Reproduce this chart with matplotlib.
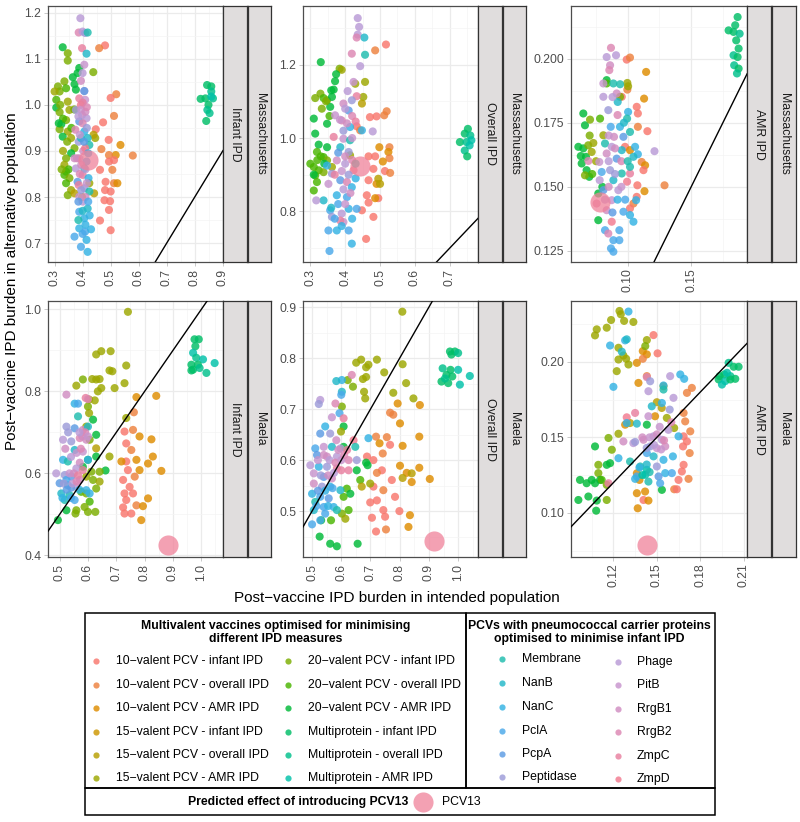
import math
import matplotlib
matplotlib.use("Agg")
import matplotlib.pyplot as plt
from matplotlib.patches import Rectangle

plt.rcParams['font.family'] = ['Liberation Sans', 'DejaVu Sans']

# ---------------- data ----------------
MULTI_LABELS = ["10\u2212valent PCV - infant IPD", "10\u2212valent PCV - overall IPD", "10\u2212valent PCV - AMR IPD",
                "15\u2212valent PCV - infant IPD", "15\u2212valent PCV - overall IPD", "15\u2212valent PCV - AMR IPD",
                "20\u2212valent PCV - infant IPD", "20\u2212valent PCV - overall IPD", "20\u2212valent PCV - AMR IPD",
                "Multiprotein - infant IPD", "Multiprotein - overall IPD", "Multiprotein - AMR IPD"]
PROT_LABELS = ["Membrane", "NanB", "NanC", "PclA", "PcpA", "Peptidase",
               "Phage", "PitB", "RrgB1", "RrgB2", "ZmpC", "ZmpD"]
SITES = ["Massachusetts", "Maela"]
MEASURES = ["Infant IPD", "Overall IPD", "AMR IPD"]

# (x, y, group index) ; group index 0-11 multivalent, 12-23 carrier proteins
MASS_INFANT = [
    (0.48, 1.129, 0), (0.459, 1.123, 1), (0.52, 1.023, 1), (0.5, 1.015, 0), (0.512, 0.976, 1), (0.473, 0.962, 0),
    (0.447, 0.947, 0), (0.493, 0.924, 0), (0.535, 0.913, 2), (0.579, 0.89, 1), (0.518, 0.891, 2), (0.494, 0.891, 1),
    (0.467, 0.904, 1), (0.494, 0.877, 0), (0.512, 0.88, 0), (0.462, 0.859, 0), (0.482, 0.833, 0), (0.512, 0.83, 1),
    (0.524, 0.83, 2), (0.48, 0.815, 0), (0.5, 0.812, 0), (0.478, 0.793, 0), (0.498, 0.791, 0), (0.494, 0.772, 0),
    (0.462, 0.749, 0), (0.5, 0.728, 0), (0.506, 0.859, 1),
    (0.329, 1.125, 8), (0.347, 1.112, 6), (0.347, 1.096, 6), (0.388, 1.08, 8), (0.382, 1.069, 8), (0.438, 1.071, 6),
    (0.335, 1.051, 6), (0.312, 1.04, 6), (0.318, 1.029, 6), (0.3, 1.029, 5), (0.371, 1.045, 8), (0.376, 1.033, 8),
    (0.341, 1.036, 7), (0.306, 1.011, 7), (0.347, 1.007, 5), (0.306, 0.994, 8), (0.318, 0.984, 6), (0.353, 0.989, 5),
    (0.341, 0.967, 6), (0.324, 0.958, 8), (0.318, 0.947, 6), (0.347, 0.942, 5), (0.329, 0.931, 8), (0.359, 0.928, 5),
    (0.371, 0.906, 6), (0.359, 0.895, 8), (0.341, 0.884, 6), (0.335, 0.87, 5), (0.341, 0.855, 7), (0.335, 0.848, 7),
    (0.353, 0.841, 6), (0.341, 0.83, 7), (0.359, 0.815, 5), (0.347, 0.804, 6), (0.371, 0.808, 4), (0.445, 0.928, 5),
    (0.439, 0.935, 4), (0.441, 0.808, 4), (0.424, 0.83, 5), (0.398, 0.8, 3),
    (0.32, 1.0, 6), (0.33, 0.97, 7), (0.315, 0.96, 8), (0.345, 0.92, 6), (0.33, 0.9, 5), (0.35, 0.86, 7),
    (0.325, 0.86, 6), (0.36, 0.95, 7), (0.37, 0.99, 6), (0.365, 1.06, 8),
    (0.844, 1.043, 9), (0.859, 1.04, 9), (0.821, 1.013, 9), (0.838, 1.014, 9), (0.865, 1.014, 10), (0.859, 1.029, 10),
    (0.849, 1.0, 9), (0.845, 0.989, 10), (0.853, 0.982, 10), (0.841, 0.965, 9), (0.859, 1.018, 11),
    (0.392, 1.188, 18), (0.386, 1.157, 21), (0.4, 1.159, 18), (0.409, 1.156, 17), (0.418, 1.157, 12), (0.398, 1.123, 22),
    (0.414, 1.111, 13), (0.406, 1.087, 19), (0.4, 1.069, 18), (0.394, 1.052, 20), (0.406, 1.03, 18), (0.388, 1.014, 22),
    (0.409, 1.011, 19), (0.376, 0.989, 17), (0.398, 0.978, 20), (0.414, 0.971, 18), (0.388, 0.964, 16), (0.374, 0.946, 21),
    (0.406, 0.942, 14), (0.418, 0.928, 13), (0.386, 0.92, 17), (0.424, 0.913, 12), (0.402, 0.9, 20), (0.388, 0.884, 19),
    (0.414, 0.877, 15), (0.376, 0.862, 18), (0.4, 0.848, 22), (0.421, 0.841, 14), (0.382, 0.833, 16), (0.406, 0.819, 17),
    (0.424, 0.812, 12), (0.388, 0.801, 19), (0.4, 0.79, 18), (0.418, 0.775, 13), (0.388, 0.768, 15), (0.406, 0.754, 14),
    (0.388, 0.732, 14), (0.409, 0.725, 15), (0.371, 0.714, 15), (0.414, 0.707, 14), (0.394, 0.692, 15), (0.418, 0.681, 14),
    (0.394, 1.0, 23), (0.38, 0.884, 21), (0.409, 0.906, 23), (0.371, 0.884, 20), (0.406, 1.03, 16), (0.394, 0.928, 13),
    (0.406, 0.862, 12), (0.386, 0.826, 22),
    (0.395, 0.99, 19), (0.41, 0.985, 20), (0.385, 0.975, 18), (0.4, 0.96, 21), (0.415, 0.95, 17), (0.39, 0.935, 19),
    (0.405, 0.92, 16), (0.42, 0.895, 14), (0.395, 0.87, 20), (0.41, 0.86, 18), (0.39, 0.85, 21), (0.415, 0.83, 19),
    (0.395, 0.815, 17), (0.41, 0.8, 20), (0.385, 0.79, 16), (0.42, 0.79, 15), (0.4, 0.77, 13), (0.425, 0.76, 14),
    (0.385, 0.75, 12), (0.41, 0.74, 14), (0.4, 0.72, 15), (0.43, 0.73, 14), (0.4, 1.005, 22), (0.415, 0.995, 21),
]

MASS_OVERALL = [
    (0.517, 1.255, 0), (0.486, 1.239, 1), (0.49, 1.059, 0), (0.471, 1.057, 0), (0.519, 1.073, 1), (0.512, 1.062, 1),
    (0.527, 0.975, 1), (0.498, 0.975, 2), (0.524, 0.962, 2), (0.467, 0.95, 0), (0.486, 0.95, 0), (0.527, 0.945, 1),
    (0.481, 0.916, 0), (0.508, 0.936, 2), (0.514, 0.91, 0), (0.529, 0.905, 1), (0.467, 0.885, 0), (0.49, 0.875, 2),
    (0.462, 0.844, 0), (0.495, 0.836, 0), (0.486, 0.836, 2), (0.467, 0.824, 0), (0.448, 0.803, 0), (0.481, 0.785, 0),
    (0.46, 0.725, 0), (0.433, 1.032, 0), (0.443, 1.021, 1),
    (0.33, 1.207, 8), (0.384, 1.189, 6), (0.39, 1.186, 5), (0.374, 1.174, 8), (0.371, 1.155, 8), (0.457, 1.153, 5),
    (0.367, 1.132, 8), (0.429, 1.148, 5), (0.329, 1.121, 6), (0.314, 1.109, 6), (0.338, 1.109, 7), (0.348, 1.103, 6),
    (0.362, 1.112, 8), (0.452, 1.112, 5), (0.448, 1.094, 4), (0.333, 1.08, 6), (0.357, 1.085, 8), (0.31, 1.053, 8),
    (0.348, 1.039, 8), (0.314, 1.012, 8), (0.324, 0.982, 8), (0.319, 0.962, 7), (0.338, 0.948, 7), (0.3, 0.93, 7),
    (0.31, 0.921, 7), (0.324, 0.912, 7), (0.314, 0.898, 7), (0.338, 0.907, 6), (0.319, 0.88, 7), (0.31, 0.857, 7),
    (0.348, 0.939, 6), (0.362, 0.921, 5), (0.5, 0.875, 4), (0.495, 0.889, 4), (0.348, 0.975, 8), (0.414, 0.953, 5),
    (0.33, 0.95, 7), (0.34, 0.93, 8), (0.32, 0.94, 7), (0.31, 0.9, 8), (0.345, 1.1, 6), (0.36, 1.13, 8), (0.355, 1.06, 7),
    (0.752, 1.025, 9), (0.743, 1.012, 9), (0.759, 1.007, 10), (0.729, 0.989, 9), (0.748, 0.989, 10), (0.757, 0.98, 11),
    (0.743, 0.966, 10), (0.75, 0.95, 9), (0.762, 0.994, 11),
    (0.436, 1.327, 18), (0.44, 1.303, 18), (0.436, 1.282, 18), (0.455, 1.274, 13), (0.433, 1.274, 21), (0.419, 1.23, 21),
    (0.457, 1.227, 12), (0.443, 1.196, 18), (0.424, 1.153, 19), (0.407, 1.128, 18), (0.433, 1.114, 22), (0.419, 1.103, 17),
    (0.395, 1.094, 20), (0.41, 1.075, 16), (0.371, 1.062, 19), (0.39, 1.048, 21), (0.414, 1.03, 14), (0.448, 1.021, 14),
    (0.479, 1.018, 18), (0.367, 1.003, 22), (0.395, 0.998, 19), (0.414, 0.994, 12), (0.386, 0.975, 13), (0.41, 0.962, 17),
    (0.348, 0.925, 14), (0.376, 0.939, 20), (0.4, 0.93, 18), (0.424, 0.912, 23), (0.362, 0.903, 17), (0.386, 0.885, 16),
    (0.405, 0.88, 21), (0.419, 0.866, 14), (0.352, 0.875, 19), (0.376, 0.844, 14), (0.405, 0.839, 15), (0.338, 0.83, 13),
    (0.317, 0.83, 18), (0.357, 0.803, 15), (0.39, 0.794, 18), (0.41, 0.807, 14), (0.433, 0.807, 15), (0.362, 0.785, 17),
    (0.395, 0.771, 19), (0.352, 0.748, 15), (0.376, 0.748, 14), (0.41, 0.748, 15), (0.419, 0.712, 14), (0.355, 0.692, 15),
    (0.386, 0.775, 22),
    (0.4, 1.08, 18), (0.42, 1.06, 21), (0.385, 1.05, 19), (0.405, 1.04, 20), (0.43, 1.045, 22), (0.395, 1.02, 17),
    (0.42, 1.0, 19), (0.38, 0.96, 16), (0.4, 0.95, 20), (0.42, 0.94, 21), (0.39, 0.91, 19), (0.41, 0.9, 17),
    (0.43, 0.89, 14), (0.37, 0.9, 22), (0.395, 0.86, 18), (0.415, 0.85, 20), (0.38, 0.82, 15), (0.4, 0.82, 19),
    (0.42, 0.78, 14), (0.37, 0.78, 15), (0.39, 0.76, 14), (0.43, 0.93, 12), (0.36, 0.81, 13),
]

MASS_AMR = [
    (0.1866, 0.2162, 9), (0.1847, 0.213, 9), (0.1795, 0.211, 9), (0.1834, 0.2104, 9), (0.1882, 0.2097, 10),
    (0.1855, 0.2071, 9), (0.1874, 0.2039, 9), (0.1834, 0.2013, 10), (0.1866, 0.2006, 9), (0.1839, 0.1974, 10),
    (0.1874, 0.1961, 9), (0.1861, 0.1942, 10),
    (0.0992, 0.1996, 0), (0.1018, 0.2004, 1), (0.1145, 0.1948, 2), (0.0997, 0.1879, 1), (0.1129, 0.1844, 2),
    (0.1071, 0.1812, 0), (0.108, 0.1786, 0), (0.108, 0.1734, 1), (0.1155, 0.1717, 0), (0.129, 0.1506, 1),
    (0.111, 0.1597, 1), (0.1137, 0.1584, 2), (0.1124, 0.1565, 0), (0.1076, 0.1506, 0), (0.1132, 0.1483, 2),
    (0.1071, 0.1461, 0), (0.1045, 0.1435, 1), (0.1018, 0.1416, 0), (0.0979, 0.1656, 0), (0.1018, 0.1643, 2),
    (0.0953, 0.1851, 0),
    (0.065, 0.1786, 8), (0.0663, 0.174, 8), (0.0703, 0.1762, 6), (0.0611, 0.1656, 8), (0.065, 0.165, 8),
    (0.0689, 0.1662, 6), (0.0729, 0.1671, 5), (0.0671, 0.1617, 8), (0.0716, 0.1636, 5), (0.0637, 0.1591, 8),
    (0.0676, 0.1565, 8), (0.0697, 0.1539, 8), (0.0663, 0.1545, 6), (0.0782, 0.1766, 7), (0.0834, 0.1916, 8),
    (0.0834, 0.1903, 7), (0.0768, 0.1474, 8), (0.0768, 0.137, 8), (0.0808, 0.1701, 5), (0.0997, 0.1905, 5),
    (0.1003, 0.1892, 5), (0.0939, 0.1851, 6),
    (0.07, 0.17, 6), (0.063, 0.162, 8), (0.075, 0.16, 5), (0.072, 0.155, 7), (0.08, 0.15, 8),
    (0.0868, 0.2042, 21), (0.0834, 0.2006, 18), (0.0908, 0.2013, 18), (0.0861, 0.1974, 20), (0.0855, 0.1955, 21),
    (0.0808, 0.1903, 19), (0.0887, 0.1903, 12), (0.0808, 0.1851, 18), (0.0913, 0.1864, 20), (0.0921, 0.1831, 13),
    (0.0847, 0.1799, 17), (0.1003, 0.1792, 14), (0.0995, 0.1766, 12), (0.0866, 0.1734, 15), (0.0939, 0.1734, 14),
    (0.1018, 0.1714, 12), (0.0892, 0.1695, 20), (0.0966, 0.1695, 16), (0.0821, 0.1669, 12), (0.0874, 0.1656, 18),
    (0.0953, 0.1643, 13), (0.1058, 0.1656, 14), (0.1211, 0.1639, 18), (0.069, 0.1601, 21), (0.0776, 0.1597, 19),
    (0.0834, 0.163, 20), (0.0913, 0.161, 16), (0.108, 0.1627, 14), (0.0795, 0.1558, 15), (0.0861, 0.1565, 17),
    (0.0953, 0.1552, 12), (0.1018, 0.1552, 22), (0.0779, 0.1526, 18), (0.0887, 0.1526, 13), (0.0995, 0.152, 23),
    (0.0808, 0.1487, 16), (0.0926, 0.1487, 18), (0.1066, 0.1448, 14), (0.0874, 0.1448, 19), (0.0755, 0.1435, 22),
    (0.0834, 0.1409, 20), (0.0966, 0.1403, 15), (0.1018, 0.139, 14), (0.1045, 0.1364, 14), (0.0874, 0.1364, 23),
    (0.0821, 0.1331, 15), (0.0934, 0.1331, 15), (0.0847, 0.1318, 21), (0.0887, 0.1292, 15), (0.0934, 0.1292, 15),
    (0.0868, 0.126, 15), (0.0887, 0.1247, 15), (0.1045, 0.1617, 13), (0.1018, 0.1578, 12),
    (0.085, 0.17, 19), (0.09, 0.165, 20), (0.095, 0.16, 21), (0.085, 0.16, 18), (0.09, 0.155, 17), (0.095, 0.15, 19),
    (0.085, 0.15, 20), (0.082, 0.145, 18), (0.092, 0.145, 14), (0.098, 0.145, 15), (0.088, 0.14, 16), (0.1, 0.16, 12),
    (0.097, 0.175, 13), (0.092, 0.178, 21), (0.088, 0.185, 18), (0.094, 0.19, 12),
]

MAELA_INFANT = [
    (0.976, 0.927, 9), (0.991, 0.927, 9), (0.979, 0.91, 9), (0.971, 0.894, 11), (0.982, 0.882, 10), (1.006, 0.878, 11),
    (0.965, 0.865, 9), (0.988, 0.865, 9), (0.971, 0.853, 9), (0.994, 0.857, 10), (1.047, 0.869, 11), (1.018, 0.845, 10),
    (0.965, 0.851, 9),
    (0.771, 0.786, 2), (0.841, 0.789, 2), (0.762, 0.749, 1), (0.759, 0.706, 1), (0.729, 0.702, 0), (0.782, 0.69, 2),
    (0.824, 0.683, 2), (0.735, 0.673, 0), (0.753, 0.657, 1), (0.771, 0.633, 2), (0.829, 0.641, 2), (0.812, 0.624, 2),
    (0.735, 0.629, 0), (0.718, 0.629, 2), (0.741, 0.608, 0), (0.782, 0.608, 2), (0.859, 0.606, 2), (0.724, 0.584, 0),
    (0.765, 0.592, 1), (0.747, 0.567, 0), (0.729, 0.551, 0), (0.759, 0.551, 0), (0.812, 0.539, 2), (0.735, 0.535, 0),
    (0.771, 0.522, 1), (0.794, 0.52, 2), (0.729, 0.502, 0), (0.753, 0.502, 0), (0.788, 0.486, 2), (0.724, 0.517, 0),
    (0.741, 0.994, 5), (0.629, 0.89, 5), (0.647, 0.898, 5), (0.68, 0.898, 5), (0.735, 0.863, 5), (0.676, 0.851, 5),
    (0.686, 0.849, 5), (0.615, 0.83, 5), (0.629, 0.829, 5), (0.641, 0.83, 5), (0.582, 0.829, 6), (0.559, 0.814, 5),
    (0.729, 0.82, 5), (0.694, 0.808, 5), (0.647, 0.808, 5), (0.635, 0.8, 5), (0.604, 0.78, 5), (0.624, 0.778, 5),
    (0.6, 0.763, 6), (0.604, 0.747, 5), (0.735, 0.735, 5), (0.618, 0.731, 8), (0.594, 0.714, 5), (0.629, 0.694, 8),
    (0.606, 0.682, 6), (0.629, 0.661, 4), (0.676, 0.641, 5), (0.629, 0.641, 8), (0.662, 0.607, 8), (0.612, 0.604, 6),
    (0.641, 0.604, 6), (0.594, 0.592, 5), (0.618, 0.584, 6), (0.641, 0.58, 5), (0.629, 0.563, 6), (0.576, 0.555, 7),
    (0.594, 0.551, 6), (0.606, 0.531, 7), (0.588, 0.518, 6), (0.559, 0.51, 6), (0.524, 0.51, 8), (0.556, 0.502, 6),
    (0.6, 0.506, 6), (0.626, 0.506, 6), (0.494, 0.486, 8), (0.582, 0.616, 8), (0.6, 0.633, 8),
    (0.524, 0.792, 20), (0.592, 0.784, 22), (0.553, 0.77, 14), (0.565, 0.77, 15), (0.6, 0.781, 21), (0.565, 0.739, 12),
    (0.524, 0.714, 17), (0.553, 0.71, 16), (0.582, 0.706, 20), (0.6, 0.714, 13), (0.512, 0.682, 18), (0.541, 0.678, 17),
    (0.571, 0.686, 21), (0.594, 0.682, 20), (0.553, 0.657, 13), (0.582, 0.653, 19), (0.512, 0.633, 14), (0.529, 0.629, 12),
    (0.571, 0.626, 20), (0.6, 0.633, 14), (0.559, 0.612, 18), (0.582, 0.608, 22), (0.488, 0.6, 18), (0.518, 0.596, 17),
    (0.541, 0.592, 16), (0.571, 0.584, 20), (0.5, 0.576, 16), (0.529, 0.571, 14), (0.559, 0.567, 19), (0.506, 0.551, 13),
    (0.535, 0.547, 12), (0.553, 0.535, 15), (0.518, 0.535, 12), (0.594, 0.559, 14), (0.606, 0.551, 14), (0.541, 0.565, 16),
    (0.524, 0.584, 15),
    (0.52, 0.66, 20), (0.54, 0.64, 18), (0.56, 0.65, 19), (0.575, 0.66, 21), (0.535, 0.6, 19), (0.55, 0.6, 20),
    (0.565, 0.595, 22), (0.515, 0.575, 17), (0.545, 0.575, 18), (0.56, 0.58, 21), (0.525, 0.56, 16), (0.57, 0.56, 14),
    (0.51, 0.54, 14), (0.54, 0.54, 15), (0.58, 0.69, 20), (0.59, 0.7, 21), (0.6, 0.69, 19), (0.57, 0.7, 18),
    (0.53, 0.7, 17),
]

MAELA_OVERALL = [
    (0.972, 0.813, 9), (0.989, 0.813, 9), (0.977, 0.807, 9), (1.0, 0.81, 10), (0.947, 0.78, 10), (0.974, 0.777, 9),
    (1.0, 0.777, 11), (0.96, 0.767, 9), (0.98, 0.764, 9), (0.943, 0.754, 9), (0.966, 0.751, 9), (1.006, 0.748, 11),
    (1.04, 0.765, 11), (0.955, 0.76, 10),
    (0.767, 0.693, 1), (0.778, 0.689, 1), (0.801, 0.672, 2), (0.793, 0.711, 2), (0.869, 0.708, 2), (0.719, 0.646, 1),
    (0.756, 0.645, 1), (0.731, 0.633, 2), (0.767, 0.63, 0), (0.81, 0.628, 2), (0.867, 0.646, 2), (0.688, 0.607, 0),
    (0.71, 0.6, 0), (0.742, 0.613, 1), (0.801, 0.589, 2), (0.739, 0.58, 0), (0.722, 0.575, 1), (0.773, 0.561, 0),
    (0.824, 0.575, 2), (0.867, 0.585, 2), (0.903, 0.563, 2), (0.841, 0.557, 2), (0.71, 0.548, 0), (0.744, 0.541, 1),
    (0.722, 0.521, 0), (0.784, 0.528, 0), (0.744, 0.502, 0), (0.799, 0.5, 0), (0.835, 0.492, 2), (0.705, 0.487, 0),
    (0.75, 0.489, 0), (0.83, 0.469, 2), (0.719, 0.46, 0), (0.753, 0.464, 1), (0.699, 0.517, 0),
    (0.809, 0.891, 5), (0.651, 0.791, 5), (0.668, 0.797, 5), (0.693, 0.787, 5), (0.722, 0.797, 5), (0.685, 0.782, 5),
    (0.81, 0.788, 5), (0.747, 0.772, 5), (0.674, 0.759, 5), (0.685, 0.763, 5), (0.622, 0.757, 6), (0.64, 0.744, 6),
    (0.822, 0.751, 5), (0.678, 0.734, 5), (0.682, 0.721, 5), (0.778, 0.732, 5), (0.847, 0.721, 5), (0.602, 0.705, 6),
    (0.608, 0.666, 8), (0.599, 0.656, 5), (0.685, 0.595, 8), (0.69, 0.59, 8), (0.653, 0.58, 8), (0.665, 0.561, 7),
    (0.699, 0.554, 5), (0.67, 0.548, 4), (0.619, 0.544, 7), (0.631, 0.534, 8), (0.608, 0.528, 7), (0.625, 0.502, 7),
    (0.602, 0.495, 6), (0.614, 0.485, 5), (0.565, 0.482, 7), (0.531, 0.482, 8), (0.526, 0.45, 8), (0.562, 0.436, 8),
    (0.585, 0.431, 8), (0.656, 0.436, 8), (0.841, 0.574, 4), (0.81, 0.565, 4), (0.608, 0.626, 8),
    (0.602, 0.757, 14), (0.583, 0.755, 13), (0.602, 0.734, 13), (0.6, 0.728, 15), (0.528, 0.718, 18), (0.523, 0.71, 17),
    (0.58, 0.711, 21), (0.594, 0.692, 15), (0.568, 0.684, 19), (0.608, 0.682, 22), (0.545, 0.666, 14), (0.528, 0.652, 16),
    (0.562, 0.652, 17), (0.642, 0.639, 23), (0.693, 0.643, 14), (0.583, 0.639, 20), (0.511, 0.623, 15), (0.54, 0.626, 19),
    (0.568, 0.626, 13), (0.597, 0.623, 18), (0.648, 0.626, 12), (0.517, 0.61, 16), (0.551, 0.607, 20), (0.585, 0.607, 18),
    (0.653, 0.6, 17), (0.625, 0.6, 21), (0.494, 0.59, 18), (0.523, 0.587, 14), (0.551, 0.587, 17), (0.585, 0.584, 22),
    (0.625, 0.58, 22), (0.506, 0.574, 19), (0.54, 0.567, 16), (0.568, 0.564, 20), (0.506, 0.554, 20), (0.534, 0.548, 17),
    (0.562, 0.548, 14), (0.597, 0.541, 13), (0.5, 0.534, 14), (0.528, 0.528, 15), (0.557, 0.525, 16), (0.511, 0.518, 12),
    (0.54, 0.508, 15), (0.574, 0.508, 14), (0.506, 0.502, 13), (0.545, 0.495, 15), (0.528, 0.482, 15), (0.5, 0.474, 15),
    (0.585, 0.502, 12), (0.636, 0.767, 21),
    (0.52, 0.6, 19), (0.54, 0.61, 20), (0.56, 0.6, 18), (0.58, 0.595, 21), (0.6, 0.6, 19), (0.53, 0.57, 17),
    (0.555, 0.57, 20), (0.575, 0.575, 18), (0.6, 0.58, 22), (0.52, 0.54, 16), (0.545, 0.54, 14), (0.57, 0.545, 15),
    (0.59, 0.62, 20), (0.61, 0.61, 21), (0.62, 0.62, 22), (0.515, 0.51, 15), (0.555, 0.51, 14),
]

MAELA_AMR = [
    (0.1996, 0.1994, 10), (0.2031, 0.1968, 9), (0.2065, 0.1968, 9), (0.1934, 0.1906, 9), (0.1966, 0.1917, 9),
    (0.2008, 0.1906, 10), (0.1927, 0.1884, 9), (0.1973, 0.1873, 11), (0.2008, 0.1884, 9), (0.2042, 0.1888, 9),
    (0.195, 0.185, 11), (0.1985, 0.1928, 11),
    (0.1477, 0.2178, 0), (0.1505, 0.2057, 0), (0.1403, 0.2072, 2), (0.1431, 0.205, 2), (0.1362, 0.1994, 2),
    (0.1403, 0.2021, 1), (0.1373, 0.1861, 2), (0.1431, 0.1906, 1), (0.1742, 0.1828, 1), (0.1708, 0.1795, 1),
    (0.1685, 0.1662, 1), (0.1696, 0.1606, 1), (0.1731, 0.154, 1), (0.1685, 0.1507, 0), (0.1708, 0.1473, 0),
    (0.1681, 0.144, 0), (0.1727, 0.1396, 1), (0.1685, 0.1318, 0), (0.1673, 0.1274, 0), (0.165, 0.1218, 0),
    (0.1719, 0.1225, 1), (0.162, 0.1156, 1), (0.1638, 0.1156, 0), (0.1362, 0.113, 2), (0.1419, 0.1141, 2),
    (0.1408, 0.1085, 0), (0.1368, 0.103, 2), (0.1442, 0.1081, 2), (0.138, 0.1218, 2), (0.1488, 0.164, 2),
    (0.1281, 0.1584, 2), (0.1362, 0.1262, 2),
    (0.1073, 0.2176, 5), (0.1085, 0.2216, 5), (0.1154, 0.2227, 5), (0.1184, 0.2278, 5), (0.1251, 0.2316, 5),
    (0.1274, 0.2272, 5), (0.1338, 0.2265, 5), (0.1242, 0.2338, 5), (0.1235, 0.2094, 5), (0.1269, 0.2043, 5),
    (0.1288, 0.2021, 5), (0.1304, 0.1983, 5), (0.1235, 0.2016, 5), (0.1223, 0.1939, 5), (0.1431, 0.2145, 5),
    (0.142, 0.2105, 6), (0.1546, 0.1839, 5), (0.15, 0.1733, 4), (0.1534, 0.1695, 4), (0.1569, 0.1629, 5),
    (0.162, 0.1562, 5), (0.1431, 0.1584, 8), (0.1235, 0.1524, 5), (0.1166, 0.1496, 6), (0.1189, 0.1418, 6),
    (0.1177, 0.1329, 8), (0.1073, 0.144, 8), (0.1096, 0.1318, 6), (0.1096, 0.1263, 6), (0.1108, 0.1218, 8),
    (0.105, 0.1218, 8), (0.0969, 0.1218, 8), (0.1015, 0.1196, 8), (0.1073, 0.1196, 8), (0.1119, 0.1218, 7),
    (0.1027, 0.1108, 8), (0.0958, 0.1085, 8), (0.1085, 0.1081, 8), (0.1081, 0.1014, 8), (0.1154, 0.1085, 6),
    (0.1154, 0.1185, 6), (0.1535, 0.1152, 8), (0.1154, 0.1318, 8), (0.1315, 0.1595, 4),
    (0.1304, 0.2334, 14), (0.1177, 0.2109, 14), (0.1281, 0.2143, 14), (0.1292, 0.215, 13), (0.1258, 0.2068, 13),
    (0.12, 0.1835, 14), (0.1431, 0.1899, 21), (0.1454, 0.1872, 17), (0.1662, 0.1917, 14), (0.1689, 0.1888, 14),
    (0.1592, 0.1906, 18), (0.1546, 0.1844, 14), (0.1546, 0.1817, 12), (0.1442, 0.1806, 18), (0.1615, 0.1762, 18),
    (0.1535, 0.1728, 14), (0.1465, 0.1706, 13), (0.1589, 0.1684, 17), (0.1292, 0.1633, 23), (0.1362, 0.1591, 13),
    (0.165, 0.1507, 14), (0.1611, 0.1374, 14), (0.1269, 0.1473, 20), (0.1338, 0.1462, 18), (0.1408, 0.1484, 20),
    (0.1477, 0.1507, 18), (0.1535, 0.1484, 18), (0.1454, 0.144, 17), (0.15, 0.1429, 19), (0.1558, 0.144, 20),
    (0.1431, 0.1396, 15), (0.1477, 0.1374, 13), (0.1546, 0.1351, 14), (0.1315, 0.134, 12), (0.1235, 0.1362, 14),
    (0.1385, 0.1307, 12), (0.1431, 0.1285, 11), (0.142, 0.1252, 11), (0.15, 0.1307, 17), (0.1558, 0.1263, 14),
    (0.1604, 0.1263, 15), (0.1362, 0.1241, 15), (0.1512, 0.1241, 16), (0.1523, 0.1196, 15), (0.1442, 0.1207, 12),
    (0.1350, 0.1225, 14), (0.1166, 0.1196, 22), (0.1292, 0.1595, 14), (0.1350, 0.1662, 22), (0.1442, 0.1640, 19),
    (0.145, 0.15, 19), (0.15, 0.152, 20), (0.155, 0.148, 21), (0.148, 0.145, 18), (0.153, 0.142, 19),
    (0.143, 0.143, 17), (0.14, 0.15, 20), (0.158, 0.155, 18), (0.16, 0.16, 21), (0.138, 0.13, 14),
    (0.143, 0.132, 13), (0.14, 0.125, 11), (0.145, 0.127, 12), (0.152, 0.157, 19), (0.135, 0.147, 17),
]

# Predicted effect of PCV13 (x, y) per panel, row-major order
PCV13_X = [0.418, 0.443, 0.078, 0.882, 0.918, 0.143]
PCV13_Y = [0.880, 0.925, 0.144, 0.4245, 0.441, 0.0785]

PANEL_DATA = [MASS_INFANT, MASS_OVERALL, MASS_AMR, MAELA_INFANT, MAELA_OVERALL, MAELA_AMR]

XLIMS = [(0.2765, 0.9008), (0.279, 0.781), (0.0553, 0.194), (0.459, 1.0765), (0.469, 1.068), (0.0907, 0.2123)]
YLIMS = [(0.659, 1.2145), (0.662, 1.36), (0.1207, 0.2205), (0.396, 1.0204), (0.410, 0.912), (0.0707, 0.2404)]
XTICKS = [[0.3, 0.4, 0.5, 0.6, 0.7, 0.8, 0.9], [0.3, 0.4, 0.5, 0.6, 0.7], [0.10, 0.15],
          [0.5, 0.6, 0.7, 0.8, 0.9, 1.0], [0.5, 0.6, 0.7, 0.8, 0.9, 1.0], [0.12, 0.15, 0.18, 0.21]]
YTICKS = [[0.7, 0.8, 0.9, 1.0, 1.1, 1.2], [0.8, 1.0, 1.2], [0.125, 0.150, 0.175, 0.200],
          [0.4, 0.6, 0.8, 1.0], [0.5, 0.6, 0.7, 0.8, 0.9], [0.10, 0.15, 0.20]]
XFMT = ["{:.1f}", "{:.1f}", "{:.2f}", "{:.1f}", "{:.1f}", "{:.2f}"]
YFMT = ["{:.1f}", "{:.1f}", "{:.3f}", "{:.1f}", "{:.1f}", "{:.2f}"]


# ---------------- colours ----------------
def hcl_hex(h, c=100.0, l=65.0):
    Xn, Yn, Zn = 95.047, 100.0, 108.883
    den = Xn + 15 * Yn + 3 * Zn
    un, vn = 4 * Xn / den, 9 * Yn / den
    hr = math.radians(h)
    U, V = c * math.cos(hr), c * math.sin(hr)
    Y = Yn * ((l + 16) / 116) ** 3
    u = U / (13 * l) + un
    v = V / (13 * l) + vn
    X = 9.0 * Y * u / (4 * v)
    Z = -X / 3 - 5 * Y + 3 * Y / v
    X, Y, Z = X / 100, Y / 100, Z / 100
    rgb = [3.240479 * X - 1.537150 * Y - 0.498535 * Z,
           -0.969256 * X + 1.875992 * Y + 0.041556 * Z,
           0.055648 * X - 0.204043 * Y + 1.057311 * Z]
    out = []
    for t in rgb:
        t = 1.055 * t ** (1 / 2.4) - 0.055 if t > 0.0031308 else 12.92 * t
        out.append(min(1, max(0, t)))
    return tuple(out)


MULTI_COLORS = [hcl_hex(15 + 15.0 * i) for i in range(12)]
PROT_COLORS = ['#1FBCAE', '#22B8C8', '#33B2E3', '#4AA9EA', '#5C9BE3', '#9C9BD8',
               '#B99AD6', '#C794CD', '#D08CC1', '#DC86B3', '#E87F9F', '#F27A8F']
COLORS = MULTI_COLORS + PROT_COLORS
PCV13_COLOR = '#F0829A'

# ---------------- layout (pixels) ----------------
W, H = 800, 822
fig = plt.figure(figsize=(W / 100, H / 100), dpi=100)


def ax_px(l, t, r, b, **kw):
    return fig.add_axes([l / W, 1 - b / H, (r - l) / W, (b - t) / H], **kw)


COLS = [(48, 223), (303, 478), (571, 747)]
ROWS = [(6, 262), (301, 557)]
STRIP1 = [(223, 247), (478, 502), (747, 771)]
STRIP2 = [(248, 271), (503, 526), (772, 796)]

TXT = '#4D4D4D'
FS = 8.8

for i in range(6):
    r, c = divmod(i, 3)
    l, rr = COLS[c]
    t, b = ROWS[r]
    ax = ax_px(l, t, rr, b)
    ax.set_facecolor('white')
    xt, yt = XTICKS[i], YTICKS[i]
    ax.set_xticks(xt)
    ax.set_yticks(yt)
    ax.set_xticklabels([XFMT[i].format(v) for v in xt], rotation=90, fontsize=FS, color=TXT)
    ax.set_yticklabels([YFMT[i].format(v) for v in yt], fontsize=FS, color=TXT)
    dx = xt[1] - xt[0]
    dy = yt[1] - yt[0]
    ax.set_xticks([xt[0] - dx / 2] + [v + dx / 2 for v in xt], minor=True)
    ax.set_yticks([yt[0] - dy / 2] + [v + dy / 2 for v in yt], minor=True)
    ax.set_xlim(*XLIMS[i])
    ax.set_ylim(*YLIMS[i])
    ax.grid(True, which='major', color='#EBEBEB', lw=0.9, zorder=0)
    ax.grid(True, which='minor', color='#F4F4F4', lw=0.5, zorder=0)
    ax.set_axisbelow(True)
    ax.tick_params(which='major', length=2.7, width=0.5, color='#B3B3B3', pad=2)
    ax.tick_params(which='minor', length=0)
    for s in ax.spines.values():
        s.set_color('#4D4D4D')
        s.set_linewidth(0.9)

    pts = PANEL_DATA[i]
    xs = [p[0] for p in pts]
    ys = [p[1] for p in pts]
    cs = [COLORS[p[2]] for p in pts]
    ax.scatter(xs, ys, s=34, c=cs, alpha=0.82, linewidths=0, zorder=3)
    ax.scatter([PCV13_X[i]], [PCV13_Y[i]], s=210, color=PCV13_COLOR, alpha=0.75, linewidths=0, zorder=4)
    ax.axline((0, 0), (1, 1), color='black', lw=1.0, zorder=5)

    for (sl, sr), label in ((STRIP1[c], MEASURES[c]), (STRIP2[c], SITES[r])):
        sax = ax_px(sl, t, sr, b)
        sax.set_facecolor('#E0DDDD')
        sax.set_xticks([])
        sax.set_yticks([])
        for s in sax.spines.values():
            s.set_color('#333333')
            s.set_linewidth(0.9)
        sax.text(0.5, 0.5, label, rotation=-90, ha='center', va='center', fontsize=FS,
                 color='#1A1A1A', transform=sax.transAxes)

# overlay for titles & legend
ov = ax_px(0, 0, W, H, zorder=10)
ov.set_xlim(0, W)
ov.set_ylim(H, 0)
ov.axis('off')
ov.patch.set_alpha(0)

ov.text(12, 281, "Post\u2212vaccine IPD burden in alternative population", rotation=90,
        ha='center', va='center', fontsize=11)
ov.text(397, 598, "Post\u2212vaccine IPD burden in intended population",
        ha='center', va='center', fontsize=11)

LX0, LX1, LY0, LMID, LY1, LV = 85, 715, 613, 788, 815, 466
for (x0, y0, x1, y1) in [(LX0, LY0, LV, LMID), (LV, LY0, LX1, LMID), (LX0, LMID, LX1, LY1)]:
    ov.add_patch(Rectangle((x0, y0), x1 - x0, y1 - y0, fill=False, ec='black', lw=1.1))

ov.text(276, 632.5, "Multivalent vaccines optimised for minimising\ndifferent IPD measures", ha='center',
        va='center', fontsize=FS, fontweight='bold', linespacing=1.2)
ov.text(589, 632.5, "PCVs with pneumococcal carrier proteins\noptimised to minimise infant IPD", ha='center',
        va='center', fontsize=FS, fontweight='bold', linespacing=1.2)

ROWS_L = [661, 685, 708, 732, 755, 778]
ROWS_R1 = [659, 683, 707, 731, 754, 777]
ROWS_R2 = [662, 685, 709, 732, 756, 779]
for k in range(6):
    for (dotx, gi) in ((96, k), (288, k + 6)):
        ov.scatter([dotx], [ROWS_L[k]], s=20, color=COLORS[gi], alpha=0.82, linewidths=0)
        ov.text(dotx + 20, ROWS_L[k], MULTI_LABELS[gi], ha='left', va='center', fontsize=FS)
    ov.scatter([502], [ROWS_R1[k]], s=20, color=COLORS[12 + k], alpha=0.82, linewidths=0)
    ov.text(522, ROWS_R1[k], PROT_LABELS[k], ha='left', va='center', fontsize=FS)
    ov.scatter([618], [ROWS_R2[k]], s=20, color=COLORS[18 + k], alpha=0.82, linewidths=0)
    ov.text(637, ROWS_R2[k], PROT_LABELS[6 + k], ha='left', va='center', fontsize=FS)

ov.text(298, 802, "Predicted effect of introducing PCV13", ha='center', va='center', fontsize=FS,
        fontweight='bold')
ov.scatter([423], [802], s=210, color=PCV13_COLOR, alpha=0.75, linewidths=0)
ov.text(442, 802, "PCV13", ha='left', va='center', fontsize=FS)

fig.savefig("out.png", dpi=100)
